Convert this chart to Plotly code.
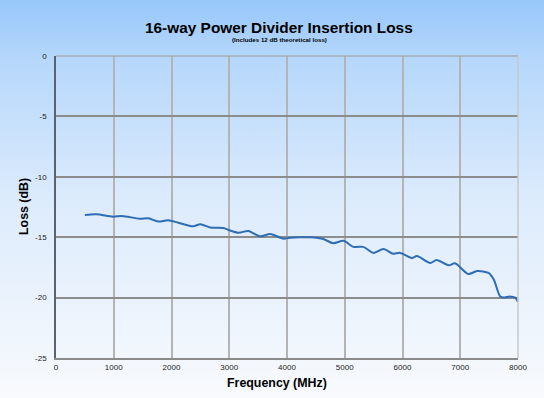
import base64
import plotly.graph_objects as go

freq_mhz = [500, 700, 990, 1140, 1450, 1600, 1770, 1940, 2120, 2370, 2500, 2670, 2900,
            2990, 3160, 3330, 3530, 3710, 3940, 4050, 4200, 4400, 4630, 4800, 4980,
            5150, 5320, 5500, 5670, 5840, 5960, 6160, 6250, 6480, 6590, 6800, 6910,
            7140, 7290, 7490, 7580, 7690, 7750, 7860, 7950, 8000]
loss_db = [-13.16, -13.1, -13.3, -13.24, -13.47, -13.44, -13.7, -13.6, -13.8, -14.1, -13.93,
           -14.2, -14.24, -14.4, -14.63, -14.49, -14.93, -14.74, -15.12, -15.04, -15.0, -15.01,
           -15.15, -15.5, -15.3, -15.8, -15.8, -16.3, -15.98, -16.37, -16.3, -16.72, -16.56,
           -17.14, -16.89, -17.33, -17.16, -18.05, -17.8, -17.96, -18.5, -19.9, -20.0, -19.9,
           -20.0, -20.35]

x_ticks = [0, 1000, 2000, 3000, 4000, 5000, 6000, 7000, 8000]
y_ticks = [0, -5, -10, -15, -20, -25]

W, H = 544, 398
ML, MR, MT, MB = 56, 26, 56, 40


def grad_svg(stops):
    st = "".join(f'<stop offset="{o}" stop-color="{c}"/>' for o, c in stops)
    svg = ('<svg xmlns="http://www.w3.org/2000/svg" width="100" height="100" preserveAspectRatio="none">'
           '<defs><linearGradient id="g" x1="0" y1="0" x2="0" y2="1">'
           f'{st}</linearGradient></defs><rect width="100" height="100" fill="url(#g)"/></svg>')
    return "data:image/svg+xml;base64," + base64.b64encode(svg.encode()).decode()


fig = go.Figure()
fig.add_trace(go.Scatter(x=freq_mhz, y=loss_db, mode="lines",
                         line=dict(color="#2e6db4", width=2.0, shape="spline", smoothing=0.8),
                         hoverinfo="skip"))

pw = W - ML - MR
ph = H - MT - MB
fig.update_layout(
    width=W, height=H,
    margin=dict(l=ML, r=MR, t=MT, b=MB),
    paper_bgcolor="#f4f8fd",
    plot_bgcolor="rgba(0,0,0,0)",
    showlegend=False,
    font=dict(family="Liberation Sans, Arial, sans-serif", color="#000"),
    images=[
        dict(source=grad_svg([(0, "#97c7fb"), (0.15, "#b6d7fb"), (0.5, "#dcebfc"), (1, "#f8fafd")]),
             xref="paper", yref="paper",
             x=-ML / pw, y=1 + MT / ph, sizex=W / pw, sizey=H / ph,
             sizing="stretch", layer="below", xanchor="left", yanchor="top"),
    ],
    xaxis=dict(range=[0, 8000], tickvals=x_ticks, ticktext=[str(v) for v in x_ticks],
               showgrid=True, gridcolor="#b4b4b4", gridwidth=1.5,
               showline=True, linecolor="#8a8a8a", linewidth=2, mirror=False,
               ticks="", tickfont=dict(size=8, color="#222"), zeroline=False, fixedrange=True),
    yaxis=dict(range=[-25, 0], tickvals=y_ticks, ticktext=[str(v) for v in y_ticks],
               showgrid=True, gridcolor="#8c8c8c", gridwidth=2,
               showline=True, linecolor="#5a6270", linewidth=1.5,
               ticks="", ticklabelstandoff=6, tickfont=dict(size=8, color="#222"),
               zeroline=False, fixedrange=True),
    shapes=[
        dict(type="line", xref="paper", yref="paper", x0=0, x1=1, y0=1, y1=1,
             line=dict(color="#9a9a9a", width=1.2)),
        dict(type="line", xref="paper", yref="paper", x0=1, x1=1, y0=0, y1=1,
             line=dict(color="#c8c8c8", width=1.5)),
    ],
    annotations=[
        dict(text="<b>16-way Power Divider Insertion Loss</b>", xref="paper", yref="paper",
             x=(279 - ML) / pw, y=1 + (MT - 27) / ph, xanchor="center", yanchor="middle",
             showarrow=False, font=dict(size=15.4, color="#000")),
        dict(text="<b>(Includes 12 dB theoretical loss)</b>", xref="paper", yref="paper",
             x=(279.5 - ML) / pw, y=1 + (MT - 40) / ph, xanchor="center", yanchor="middle",
             showarrow=False, font=dict(size=6.2, color="#000")),
        dict(text="<b>Frequency (MHz)</b>", xref="paper", yref="paper",
             x=(277 - ML) / pw, y=-(383 - (H - MB)) / ph, xanchor="center", yanchor="middle",
             showarrow=False, font=dict(size=12.4, color="#000")),
        dict(text="<b>Loss (dB)</b>", xref="paper", yref="paper", textangle=-90,
             x=-(ML - 24) / pw, y=0.5, xanchor="center", yanchor="middle",
             showarrow=False, font=dict(size=12.4, color="#000")),
    ],
)

fig.write_html("out.html", config={"displayModeBar": False},
               post_script="document.body.style.margin='0';document.body.style.overflow='hidden';")
